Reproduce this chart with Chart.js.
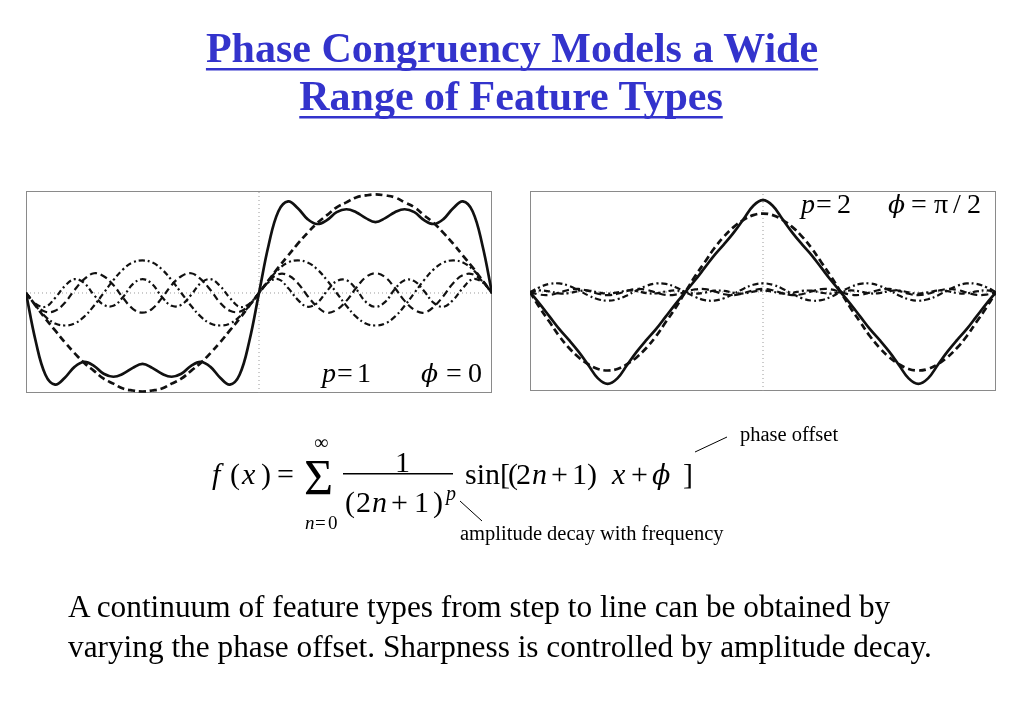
<!DOCTYPE html>
<html>
<head>
<meta charset="utf-8">
<title>Phase Congruency Models a Wide Range of Feature Types</title>
<script src="https://cdn.jsdelivr.net/npm/chart.js@4.4.0/dist/chart.umd.min.js"></script>
<style>
  html, body { margin: 0; padding: 0; background: #fff; }
  body { width: 1023px; height: 708px; position: relative; overflow: hidden; }
  .box { position: absolute; border: 1.5px solid #8a8a8a; box-sizing: border-box; }
  canvas { position: absolute; z-index: 1; }
  #boxL { left: 26px; top: 191px; width: 466px; height: 202px; }
  #boxR { left: 530px; top: 191px; width: 466px; height: 200px; }
  #chartL { left: 26px; top: 191px; width: 466px; height: 202px; }
  #chartR { left: 530px; top: 191px; width: 466px; height: 200px; }
  svg { position: absolute; left: 0; top: 0; z-index: 2; pointer-events: none; }
  svg text { font-family: "Liberation Serif", "Times New Roman", "DejaVu Serif", serif; fill: #000; }
  .it { font-style: italic; }
  .phi { font-family: "DejaVu Serif", serif; font-style: italic; }
</style>
</head>
<body>

<div class="box" id="boxL"></div>
<div class="box" id="boxR"></div>
<canvas id="chartL" width="466" height="202"></canvas>
<canvas id="chartR" width="466" height="200"></canvas>

<svg width="1023" height="708" id="overlay">
  <g id="title" font-weight="bold" font-size="42">
    <text x="512" y="62" text-anchor="middle" style="fill:#3333cc">Phase Congruency Models a Wide</text>
    <text x="511" y="110" text-anchor="middle" style="fill:#3333cc">Range of Feature Types</text>
  </g>

  <!-- chart labels -->
  <text y="382" font-size="28">
    <tspan x="322" class="it">p</tspan><tspan x="337">=</tspan><tspan x="357">1</tspan>
    <tspan x="421" class="phi" font-size="25">ϕ</tspan><tspan x="446">=</tspan><tspan x="468">0</tspan>
  </text>
  <text y="213" font-size="28">
    <tspan x="801" class="it">p</tspan><tspan x="816">=</tspan><tspan x="837">2</tspan>
    <tspan x="888" class="phi" font-size="25">ϕ</tspan><tspan x="911">=</tspan><tspan x="934">π</tspan><tspan x="953">/</tspan><tspan x="967">2</tspan>
  </text>

  <!-- formula -->
  <text y="484" font-size="30">
    <tspan x="212" class="it">f</tspan><tspan x="230">(</tspan><tspan x="242" class="it">x</tspan><tspan x="261">)</tspan>
    <tspan x="277">=</tspan>
  </text>
  <text x="304" y="494" font-size="50">Σ</text>
  <text x="314" y="449" font-size="20">∞</text>
  <text y="529" font-size="19">
    <tspan x="305" class="it">n</tspan><tspan x="315">=</tspan><tspan x="328">0</tspan>
  </text>
  <text x="395" y="472" font-size="30">1</text>
  <rect x="343" y="473" width="110" height="1.5" fill="#000"></rect>
  <text y="512" font-size="30">
    <tspan x="345">(</tspan><tspan x="356">2</tspan><tspan x="372" class="it">n</tspan><tspan x="391">+</tspan><tspan x="414">1</tspan><tspan x="433">)</tspan>
  </text>
  <text x="446" y="500" font-size="20" class="it">p</text>
  <text y="484" font-size="30">
    <tspan x="465">sin</tspan><tspan x="500">[</tspan><tspan x="508">(</tspan><tspan x="516">2</tspan><tspan x="532" class="it">n</tspan><tspan x="551">+</tspan><tspan x="572">1</tspan><tspan x="587">)</tspan>
    <tspan x="612" class="it">x</tspan><tspan x="631">+</tspan><tspan x="652" class="phi" font-size="27">ϕ</tspan><tspan x="683">]</tspan>
  </text>

  <!-- annotations -->
  <line x1="695" y1="452" x2="727" y2="437" stroke="#000" stroke-width="1"></line>
  <text x="740" y="441" font-size="20.5">phase offset</text>
  <line x1="460" y1="501" x2="482" y2="521" stroke="#000" stroke-width="1"></line>
  <text x="460" y="540" font-size="20.5">amplitude decay with frequency</text>

  <!-- paragraph -->
  <text x="68" y="617" font-size="31.3">A continuum of feature types from step to line can be obtained by</text>
  <text x="68" y="657" font-size="31.3">varying the phase offset. Sharpness is controlled by amplitude decay.</text>
</svg>

<script>
// ---- left panel: p = 1, phi = 0 (x in degrees) ----
const xLeft = [-180, -172.5, -165, -157.5, -150, -142.5, -135, -127.5, -120, -112.5, -105, -97.5,
               -90, -82.5, -75, -67.5, -60, -52.5, -45, -37.5, -30, -22.5, -15, -7.5,
               0, 7.5, 15, 22.5, 30, 37.5, 45, 52.5, 60, 67.5, 75, 82.5,
               90, 97.5, 105, 112.5, 120, 127.5, 135, 142.5, 150, 157.5, 165, 172.5, 180];
const xRangeLeft = [-180, 180];
const yRangeLeft = [-1.015, 1.035];

const sumLeft = [0, -.49, -.83, -.93, -.86, -.75, -.7, -.74, -.82, -.85, -.82, -.76, -.72, -.76, -.82, -.85, -.82, -.74, -.7, -.75, -.86, -.93, -.83, -.49,
                 0, .49, .83, .93, .86, .75, .7, .74, .82, .85, .82, .76, .72, .76, .82, .85, .82, .74, .7, .75, .86, .93, .83, .49, 0];
const h1Left = [0, -.13, -.26, -.38, -.5, -.61, -.71, -.79, -.87, -.92, -.97, -.99, -1, -.99, -.97, -.92, -.87, -.79, -.71, -.61, -.5, -.38, -.26, -.13,
                0, .13, .26, .38, .5, .61, .71, .79, .87, .92, .97, .99, 1, .99, .97, .92, .87, .79, .71, .61, .5, .38, .26, .13, 0];
const h3Left = [0, -.13, -.24, -.31, -.33, -.31, -.24, -.13, 0, .13, .24, .31, .33, .31, .24, .13, 0, -.13, -.24, -.31, -.33, -.31, -.24, -.13,
                0, .13, .24, .31, .33, .31, .24, .13, 0, -.13, -.24, -.31, -.33, -.31, -.24, -.13, 0, .13, .24, .31, .33, .31, .24, .13, 0];
const h5Left = [0, -.12, -.19, -.18, -.1, .03, .14, .2, .17, .08, -.05, -.16, -.2, -.16, -.05, .08, .17, .2, .14, .03, -.1, -.18, -.19, -.12,
                0, .12, .19, .18, .1, -.03, -.14, -.2, -.17, -.08, .05, .16, .2, .16, .05, -.08, -.17, -.2, -.14, -.03, .1, .18, .19, .12, 0];
const h7Left = [0, -.11, -.14, -.05, .07, .14, .1, -.02, -.12, -.13, -.04, .09, .14, .09, -.04, -.13, -.12, -.02, .1, .14, .07, -.05, -.14, -.11,
                0, .11, .14, .05, -.07, -.14, -.1, .02, .12, .13, .04, -.09, -.14, -.09, .04, .13, .12, .02, -.1, -.14, -.07, .05, .14, .11, 0];

// ---- right panel: p = 2, phi = pi/2 ----
const xRight = [-270, -258.75, -247.5, -236.25, -225, -213.75, -202.5, -191.25, -180, -168.75, -157.5, -146.25,
                -135, -123.75, -112.5, -101.25, -90, -78.75, -67.5, -56.25, -45, -33.75, -22.5, -11.25,
                0, 11.25, 22.5, 33.75, 45, 56.25, 67.5, 78.75, 90, 101.25, 112.5, 123.75,
                135, 146.25, 157.5, 168.75, 180, 191.25, 202.5, 213.75, 225, 236.25, 247.5, 258.75, 270];
const xRangeRight = [-270, 270];
const yRangeRight = [-1.261, 1.287];

const sumRight = [0, -.15, -.31, -.47, -.61, -.76, -.93, -1.1, -1.17, -1.1, -.93, -.76, -.61, -.47, -.31, -.15, 0, .15, .31, .47, .61, .76, .93, 1.1,
                  1.17, 1.1, .93, .76, .61, .47, .31, .15, 0, -.15, -.31, -.47, -.61, -.76, -.93, -1.1, -1.17, -1.1, -.93, -.76, -.61, -.47, -.31, -.15, 0];
const h1Right = [0, -.2, -.38, -.56, -.71, -.83, -.92, -.98, -1, -.98, -.92, -.83, -.71, -.56, -.38, -.2, 0, .2, .38, .56, .71, .83, .92, .98,
                 1, .98, .92, .83, .71, .56, .38, .2, 0, -.2, -.38, -.56, -.71, -.83, -.92, -.98, -1, -.98, -.92, -.83, -.71, -.56, -.38, -.2, 0];
const h3Right = [0, .062, .103, .109, .079, .022, -.043, -.092, -.111, -.092, -.043, .022, .079, .109, .103, .062, 0, -.062, -.103, -.109, -.079, -.022, .043, .092,
                 .111, .092, .043, -.022, -.079, -.109, -.103, -.062, 0, .062, .103, .109, .079, .022, -.043, -.092, -.111, -.092, -.043, .022, .079, .109, .103, .062, 0];
const h5Right = [0, -.033, -.037, -.008, .028, .039, .015, -.022, -.04, -.022, .015, .039, .028, -.008, -.037, -.033, 0, .033, .037, .008, -.028, -.039, -.015, .022,
                 .04, .022, -.015, -.039, -.028, .008, .037, .033, 0, -.033, -.037, -.008, .028, .039, .015, -.022, -.04, -.022, .015, .039, .028, -.008, -.037, -.033, 0];
const h7Right = [0, .02, .008, -.017, -.014, .011, .019, -.004, -.02, -.004, .019, .011, -.014, -.017, .008, .02, 0, -.02, -.008, .017, .014, -.011, -.019, .004,
                 .02, .004, -.019, -.011, .014, .017, -.008, -.02, 0, .02, .008, -.017, -.014, .011, .019, -.004, -.02, -.004, .019, .011, -.014, -.017, .008, .02, 0];

// line styles
const SOLID = [];
const DASHED = [7, 4];
const DASHDOT = [6, 3, 2, 3];

function curve(xs, ys, dash, width) {
    return {
        data: xs.map((x, i) => ({ x: x, y: ys[i] })),
        borderColor: '#111',
        borderWidth: width,
        borderDash: dash,
        pointRadius: 0,
        tension: 0.4,
        fill: false
    };
}

function guide(pts) {
    return {
        data: pts,
        borderColor: '#9a9a9a',
        borderWidth: 1,
        borderDash: [1, 3],
        pointRadius: 0,
        tension: 0,
        fill: false
    };
}

function makePanel(id, xs, series, xRange, yRange) {
    const datasets = [
        curve(xs, series[0], SOLID, 2.7),
        curve(xs, series[1], DASHED, 2.7),
        curve(xs, series[2], DASHDOT, 2.2),
        curve(xs, series[3], DASHED, 2.2),
        curve(xs, series[4], DASHDOT, 2.2),
        // dotted zero lines (drawn under the curves)
        guide([{ x: xRange[0], y: 0 }, { x: xRange[1], y: 0 }]),
        guide([{ x: 0, y: yRange[0] }, { x: 0, y: yRange[1] }])
    ];

    return new Chart(document.getElementById(id), {
        type: 'line',
        data: { datasets: datasets },
        options: {
            responsive: false,
            animation: false,
            events: [],
            layout: { padding: 0 },
            plugins: { legend: { display: false }, tooltip: { enabled: false } },
            scales: {
                x: { type: 'linear', min: xRange[0], max: xRange[1], display: false },
                y: { type: 'linear', min: yRange[0], max: yRange[1], display: false }
            }
        }
    });
}

makePanel('chartL', xLeft, [sumLeft, h1Left, h3Left, h5Left, h7Left], xRangeLeft, yRangeLeft);
makePanel('chartR', xRight, [sumRight, h1Right, h3Right, h5Right, h7Right], xRangeRight, yRangeRight);

// underline the title lines
const svg = document.getElementById('overlay');
const lineY = [68, 116];
document.querySelectorAll('#title text').forEach(function (t, i) {
    const bb = t.getBBox();
    const r = document.createElementNS('http://www.w3.org/2000/svg', 'rect');
    r.setAttribute('x', bb.x);
    r.setAttribute('y', lineY[i]);
    r.setAttribute('width', bb.width);
    r.setAttribute('height', 2.5);
    r.setAttribute('fill', '#3333cc');
    svg.appendChild(r);
});
</script>
</body>
</html>
